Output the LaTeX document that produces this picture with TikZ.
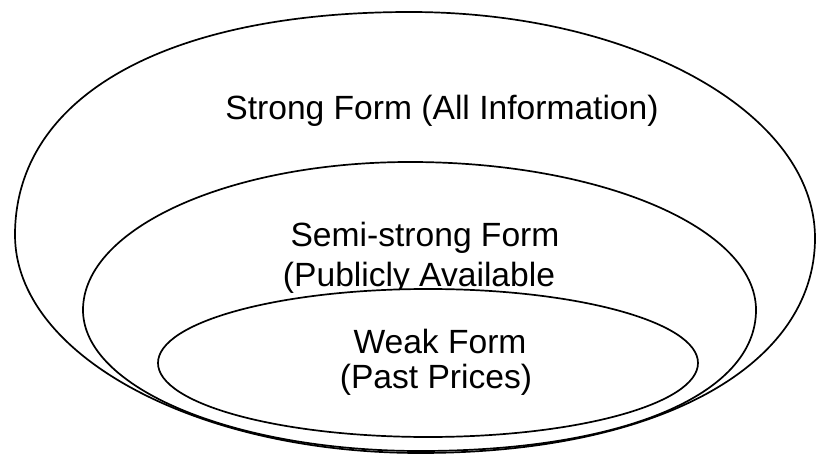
\documentclass[tikz,border=0pt]{standalone}
\usepackage{fontspec}
\setmainfont{Liberation Sans}
\begin{document}
\begin{tikzpicture}[x=1pt, y=-1pt]
\tikzset{ring/.style={draw, line width=1.7pt}}
\tikzset{formtext/.style={anchor=base, inner sep=0pt, font=\fontsize{33.6}{40}\selectfont}}
\useasboundingbox (0,0) rectangle (816,454);
\draw[ring] (15,235) .. controls (15,97) and (165,12) .. (410,12)
  .. controls (634,12) and (815,113) .. (815,238)
  .. controls (815,367) and (657,453) .. (420,453)
  .. controls (196,453) and (15,355) .. cycle;
\draw[ring] (83,310) .. controls (83,228) and (230,162) .. (410,162)
  .. controls (601,162) and (756,228) .. (756,310)
  .. controls (756,395) and (622,451) .. (420,451)
  .. controls (234,451) and (83,388) .. cycle;
\node[formtext] (strong) at (442,120) {Strong Form (All Information)};
\node[formtext] (semi) at (425,247) {Semi-strong Form};
\node[formtext] (public) at (419,287) {(Publicly Available};
\draw[ring, fill=white] (428,363) ellipse [x radius=270pt, y radius=74pt];
\node[formtext] (weak) at (440,353) {Weak Form};
\node[formtext] (past) at (436,388) {(Past Prices)};
\end{tikzpicture}
\end{document}
